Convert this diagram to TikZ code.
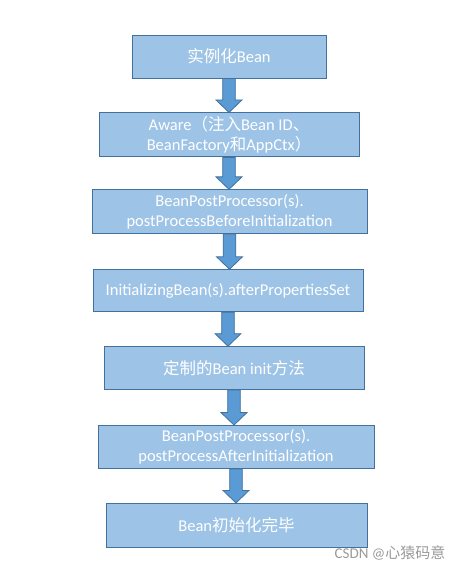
\documentclass[tikz,border=0pt]{standalone}
\usepackage{fontspec}
\setmainfont{Carlito}
\newfontfamily\cjk{Noto Sans CJK SC}
\usepackage{tikz}
\usetikzlibrary{positioning,calc}
\definecolor{bfill}{HTML}{9DC3E6}
\definecolor{bline}{HTML}{41719C}
\definecolor{afill}{HTML}{5B9BD5}
\definecolor{wmark}{HTML}{9A9A9A}

% block arrow from the bottom of one box to the top of the next
\newcommand{\fatarrow}[2]{%
  \filldraw[arr] let \p1=(#1.south), \p2=(#2.north) in
    (\x1-6.3pt,\y1) -- (\x1-6.3pt,\y2+12.5pt) -- (\x1-13pt,\y2+12.5pt)
    -- (\x1,\y2) -- (\x1+13pt,\y2+12.5pt) -- (\x1+6.3pt,\y2+12.5pt)
    -- (\x1+6.3pt,\y1) -- cycle;}

\begin{document}
\begin{tikzpicture}[
  x=1pt,y=1pt,
  font=\fontsize{16.5}{20}\selectfont,
  stage/.style={draw=bline,fill=bfill,line width=0.9pt,text=white,
                minimum height=43pt,align=center,inner sep=2pt},
  arr/.style={draw=bline,fill=afill,line width=0.8pt,line join=miter},
  wmk/.style={font=\fontsize{15}{16}\selectfont,text=wmark}
]
\useasboundingbox[fill=white] (0,0) rectangle (462,-571);

\node[stage,minimum width=194pt] (inst) at (229,-56.5)
  {{\cjk 实例化}Bean};
\node[stage,minimum width=260pt,minimum height=44pt,below=34pt of inst] (aware)
  {Aware{\cjk （注入}Bean ID{\cjk 、}\\BeanFactory{\cjk 和}AppCtx{\cjk ）}};
\node[stage,minimum width=275pt,minimum height=44pt,below=32pt of aware,
      xshift=0.5pt] (before)
  {BeanPostProcessor(s).\\postProcessBeforeInitialization};
\node[stage,minimum width=270pt,minimum height=42pt,below=35pt of before,
      xshift=-1.5pt] (props)
  {InitializingBean(s).afterPropertiesSet};
\node[stage,minimum width=260pt,below=34pt of props,xshift=6pt] (init)
  {{\cjk 定制的}Bean init{\cjk 方法}};
\node[stage,minimum width=276pt,below=35pt of init,xshift=2pt] (after)
  {BeanPostProcessor(s).\\postProcessAfterInitialization};
\node[stage,minimum width=261pt,minimum height=44pt,below=34pt of after,
      xshift=0.5pt] (done)
  {Bean{\cjk 初始化完毕}};

\fatarrow{inst}{aware}
\fatarrow{aware}{before}
\fatarrow{before}{props}
\fatarrow{props}{init}
\fatarrow{init}{after}
\fatarrow{after}{done}

\node[wmk] (csdn) at (390,-553) {CSDN @{\cjk 心猿码意}};
\end{tikzpicture}
\end{document}
